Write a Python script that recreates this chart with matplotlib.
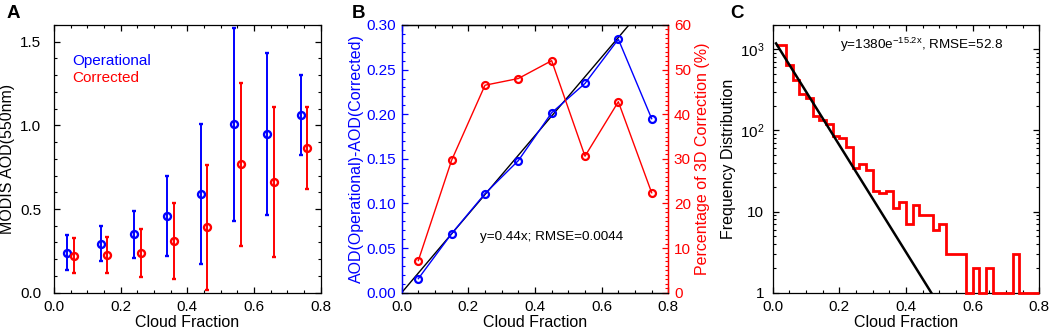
import numpy as np
import matplotlib
matplotlib.use('Agg')
from matplotlib import pyplot as plt
from matplotlib.ticker import MultipleLocator, FixedLocator, FixedFormatter, NullFormatter

plt.rcParams['font.family'] = ['Liberation Sans', 'DejaVu Sans']
plt.rcParams['mathtext.default'] = 'regular'
plt.rcParams['axes.linewidth'] = 0.9

BLUE = '#0000ff'
RED = '#ff0000'

# panel A: AOD vs cloud fraction (operational / corrected, with spread)
cf_oper = [0.04, 0.14, 0.24, 0.34, 0.44, 0.54, 0.64, 0.74]
aod_oper = [0.24, 0.29, 0.35, 0.456, 0.592, 1.006, 0.948, 1.064]
aod_oper_lo = [0.136, 0.19, 0.21, 0.218, 0.17, 0.426, 0.466, 0.82]
aod_oper_hi = [0.342, 0.396, 0.49, 0.696, 1.01, 1.584, 1.43, 1.302]

cf_corr = [0.06, 0.16, 0.26, 0.36, 0.46, 0.56, 0.66, 0.76]
aod_corr = [0.222, 0.224, 0.236, 0.306, 0.39, 0.77, 0.66, 0.864]
aod_corr_lo = [0.12, 0.12, 0.094, 0.082, 0.018, 0.282, 0.214, 0.618]
aod_corr_hi = [0.326, 0.332, 0.382, 0.534, 0.762, 1.256, 1.11, 1.112]

# panel B: AOD difference and percentage of 3D correction
cf_bins = [0.05, 0.15, 0.25, 0.35, 0.45, 0.55, 0.65, 0.75]
aod_diff = [0.0157, 0.0662, 0.111, 0.148, 0.2016, 0.2345, 0.284, 0.195]
pct_corr = [7.2, 29.7, 46.5, 48.0, 52.0, 30.6, 42.8, 22.4]
slope_b = 0.44

# panel C: histogram of cloud fraction (bin width 0.02)
hist_edges = np.round(np.arange(0, 0.81, 0.02), 2)
hist_counts = [1140, 1140, 640, 425, 280, 250, 150, 136, 120, 86,
               80, 62, 34, 39, 33, 18, 17, 18, 11, 13,
               7, 12, 9, 9, 6, 7, 3, 3, 3, 1,
               2, 1, 2, 1, 1, 1, 3, 1, 1, 1]
fit_a = 1380
fit_b = 15.2


def style_axis(ax, xminor, yminor):
    ax.tick_params(which='both', direction='in', top=True, right=True, labelsize=11)
    ax.tick_params(which='major', length=4, width=0.9)
    ax.tick_params(which='minor', length=2.2, width=0.8)
    ax.tick_params(axis='x', pad=5)
    ax.xaxis.set_major_locator(MultipleLocator(0.2))
    ax.xaxis.set_minor_locator(MultipleLocator(xminor))
    if yminor is not None:
        ax.yaxis.set_minor_locator(MultipleLocator(yminor))
    ax.set_xlim(0, 0.8)
    ax.set_xticks([0, 0.2, 0.4, 0.6, 0.8])
    ax.set_xticklabels(['0.0', '0.2', '0.4', '0.6', '0.8'])
    ax.set_xlabel('Cloud Fraction', fontsize=11.5, labelpad=1)


fig = plt.figure(figsize=(10.52, 3.34), dpi=100)

# ---- A ----
axA = fig.add_axes([0.0513, 0.1237, 0.2535, 0.8015])
err_o = [np.subtract(aod_oper, aod_oper_lo), np.subtract(aod_oper_hi, aod_oper)]
err_c = [np.subtract(aod_corr, aod_corr_lo), np.subtract(aod_corr_hi, aod_corr)]
axA.errorbar(cf_oper, aod_oper, yerr=err_o, fmt='o', mfc='none', mec=BLUE, ecolor=BLUE,
             ms=5, mew=1.7, elinewidth=1.4, capsize=1.2, capthick=1.2)
axA.errorbar(cf_corr, aod_corr, yerr=err_c, fmt='o', mfc='none', mec=RED, ecolor=RED,
             ms=5, mew=1.7, elinewidth=1.4, capsize=1.2, capthick=1.2)
style_axis(axA, 0.05, 0.1)
axA.set_ylim(0, 1.6)
axA.yaxis.set_major_locator(MultipleLocator(0.5))
axA.yaxis.set_major_formatter(plt.FormatStrFormatter('%.1f'))
axA.tick_params(axis='y', pad=9)
axA.set_ylabel('MODIS AOD(550nm)', fontsize=11.5, labelpad=4)
axA.text(0.054, 1.384, 'Operational', color=BLUE, fontsize=11, va='center')
axA.text(0.054, 1.282, 'Corrected', color=RED, fontsize=11, va='center')

# ---- B ----
axB = fig.add_axes([0.3818, 0.1237, 0.2535, 0.8015])
axB2 = axB.twinx()
line_x = np.array([0, 0.8])
axB.plot(line_x, slope_b * line_x, color='black', lw=1.0)
axB.plot(cf_bins, aod_diff, '-o', color=BLUE, mfc='none', ms=5, mew=1.6, lw=1.0)
axB2.plot(cf_bins, pct_corr, '-o', color=RED, mfc='none', ms=5, mew=1.6, lw=1.0)
style_axis(axB, 0.05, 0.01)
axB.set_ylim(0, 0.30)
axB.yaxis.set_major_locator(MultipleLocator(0.05))
axB.yaxis.set_major_formatter(plt.FormatStrFormatter('%.2f'))
axB.tick_params(axis='y', which='both', colors=BLUE, right=False, pad=4)
axB.set_ylabel('AOD(Operational)-AOD(Corrected)', color=BLUE, fontsize=11.5, labelpad=2)
axB2.set_ylim(0, 60)
axB2.yaxis.set_major_locator(MultipleLocator(10))
axB2.yaxis.set_minor_locator(MultipleLocator(1))
axB2.tick_params(axis='y', which='both', direction='in', colors=RED, labelsize=11, pad=4)
axB2.tick_params(axis='y', which='major', length=4, width=0.9)
axB2.tick_params(axis='y', which='minor', length=2.2, width=0.8)
axB2.set_ylabel('Percentage of 3D Correction (%)', color=RED, fontsize=11.5, labelpad=3)
for a in (axB, axB2):
    a.spines['left'].set_color(BLUE)
    a.spines['right'].set_color(RED)
axB.text(0.235, 0.0625, 'y=0.44x; RMSE=0.0044', fontsize=9.7, va='center')

# ---- C ----
axC = fig.add_axes([0.7345, 0.1237, 0.2535, 0.8015])
step_x = np.r_[hist_edges[0] + 0.01, hist_edges[1:]]
axC.stairs(hist_counts, step_x, color=RED, lw=2.0, baseline=None, zorder=3, clip_on=False)
fit_x = np.linspace(0.01, 0.6, 200)
axC.plot(fit_x, fit_a * np.exp(-fit_b * fit_x), color='black', lw=1.8, zorder=4)
axC.set_yscale('log')
axC.set_ylim(1, 2000)
style_axis(axC, 0.05, None)
axC.yaxis.set_major_locator(FixedLocator([1, 10, 100, 1000]))
axC.yaxis.set_major_formatter(FixedFormatter(['1', '10', '10$^2$', '10$^3$']))
axC.yaxis.set_minor_formatter(NullFormatter())
axC.tick_params(axis='y', pad=6)
axC.set_ylabel('Frequency Distribution', fontsize=11.5, labelpad=3)
axC.text(0.202, 1130, 'y=1380e$^{-15.2x}$, RMSE=52.8', fontsize=9.7, va='center')

# panel letters
fig.text(7 / 1052, 1 - 18 / 334, 'A', fontsize=13.5, fontweight='bold')
fig.text(352 / 1052, 1 - 18 / 334, 'B', fontsize=13.5, fontweight='bold')
fig.text(730 / 1052, 1 - 18 / 334, 'C', fontsize=13.5, fontweight='bold')

fig.savefig('out.png', dpi=100)
